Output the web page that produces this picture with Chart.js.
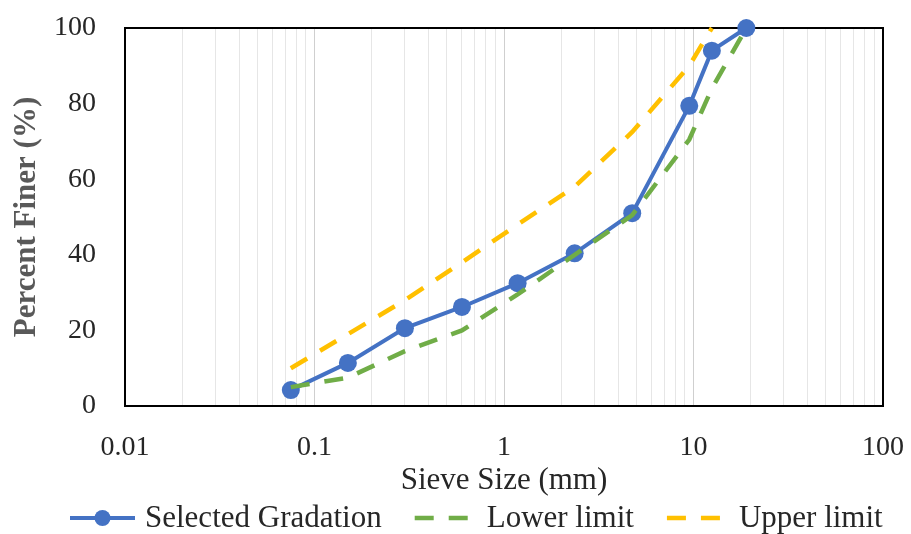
<!DOCTYPE html>
<html>
<head>
<meta charset="utf-8">
<script src="https://cdn.jsdelivr.net/npm/chart.js@4/dist/chart.umd.min.js"></script>
<style>
  html, body { margin: 0; padding: 0; background: #ffffff; }
  #wrap { width: 911px; height: 534px; }
</style>
</head>
<body>
<div id="wrap"><canvas id="c" width="911" height="534"></canvas></div>
<script>
// Sieve analysis: selected aggregate gradation with its specification band
const sieveSizes        = [0.075, 0.15, 0.3, 0.6, 1.18, 2.36, 4.75, 9.5, 12.5, 19];
const selectedGradation = [4.2, 11.4, 20.6, 26.2, 32.5, 40.4, 51.0, 79.4, 94.0, 100];
const lowerLimit        = [5, 7.5, 14.5, 20, 29.5, 40, 50.5, 70.5, 84, 100];
const upperLimit        = [10, 19, 28, 38, 48, 58, 72.5, 90, 100, null];
const seriesNames = ['Selected Gradation', 'Lower limit', 'Upper limit'];
const xTickLabels = ['0.01', '0.1', '1', '10', '100'];
const yTickLabels = ['0', '20', '40', '60', '80', '100'];

const SERIF = "'Liberation Serif', 'Times New Roman', serif";

function toPoints(values) {
  return sieveSizes
    .map((s, i) => ({ x: s, y: values[i] }))
    .filter(p => p.y !== null);
}

// keep the plot area governed by layout padding only
function noOverhang(scale) {
  scale.paddingTop = 0;
  scale.paddingBottom = 0;
  scale.paddingLeft = 0;
  scale.paddingRight = 0;
}

// black frame around the plot area
const frame = {
  id: 'frame',
  beforeDatasetsDraw(chart) {
    const { ctx, chartArea: a } = chart;
    ctx.save();
    ctx.strokeStyle = '#000000';
    ctx.lineWidth = 2;
    ctx.strokeRect(a.left, a.top, a.right - a.left, a.bottom - a.top);
    ctx.restore();
  }
};

// legend row with line / marker samples
const legendRow = {
  id: 'legendRow',
  afterDraw(chart) {
    const { ctx } = chart;
    const y = 518;
    const sampleW = 65, gap = 10, spacing = 30;
    let x = 70;
    ctx.save();
    ctx.font = '31px ' + SERIF;
    ctx.textBaseline = 'middle';
    ctx.textAlign = 'left';
    chart.data.datasets.forEach(ds => {
      ctx.save();
      ctx.strokeStyle = ds.borderColor;
      ctx.lineWidth = ds.borderWidth;
      ctx.setLineDash(ds.borderDash || []);
      ctx.beginPath();
      if (ds.borderDash && ds.borderDash.length) {
        ctx.moveTo(x + 3, y);
        ctx.lineTo(x + sampleW - 3, y);
      } else {
        ctx.moveTo(x, y);
        ctx.lineTo(x + sampleW, y);
      }
      ctx.stroke();
      if (ds.pointRadius > 0) {
        ctx.setLineDash([]);
        ctx.fillStyle = ds.pointBackgroundColor;
        ctx.beginPath();
        ctx.arc(x + sampleW / 2, y, ds.pointRadius - 1, 0, Math.PI * 2);
        ctx.fill();
      }
      ctx.restore();
      ctx.fillStyle = '#262626';
      ctx.fillText(ds.label, x + sampleW + gap, y + 1);
      x += sampleW + gap + ctx.measureText(ds.label).width + spacing;
    });
    ctx.restore();
  }
};

const isDecade = v => xTickLabels.includes(String(v));

new Chart(document.getElementById('c'), {
  type: 'line',
  data: {
    datasets: [
      {
        label: seriesNames[0],
        data: toPoints(selectedGradation),
        borderColor: '#4472C4',
        backgroundColor: '#4472C4',
        pointBackgroundColor: '#4472C4',
        pointBorderWidth: 0,
        borderWidth: 4,
        pointRadius: 9,
        tension: 0,
        clip: false,
        order: 3
      },
      {
        label: seriesNames[1],
        data: toPoints(lowerLimit),
        borderColor: '#70AD47',
        backgroundColor: '#70AD47',
        borderWidth: 4.5,
        borderDash: [19, 15],
        pointRadius: 0,
        tension: 0,
        clip: false,
        order: 2
      },
      {
        label: seriesNames[2],
        data: toPoints(upperLimit),
        borderColor: '#FFC000',
        backgroundColor: '#FFC000',
        borderWidth: 4.5,
        borderDash: [19, 15],
        pointRadius: 0,
        tension: 0,
        clip: false,
        order: 1
      }
    ]
  },
  options: {
    responsive: false,
    animation: false,
    devicePixelRatio: 1,
    layout: { padding: { left: 0, right: 28, top: 28, bottom: 33 } },
    plugins: {
      legend: { display: false },
      tooltip: { enabled: false }
    },
    scales: {
      x: {
        type: 'logarithmic',
        position: 'bottom',
        min: 0.01,
        max: 100,
        afterBuildTicks(scale) {
          const ticks = [];
          [0.01, 0.1, 1, 10].forEach(d => {
            for (let m = 1; m <= 9; m++) ticks.push({ value: Number((m * d).toPrecision(3)) });
          });
          ticks.push({ value: 100 });
          scale.ticks = ticks;
        },
        afterFit(scale) { scale.height = 95; noOverhang(scale); },
        grid: {
          drawTicks: false,
          lineWidth: 1,
          color: ctx => (ctx.tick && isDecade(ctx.tick.value)) ? '#cfcfcf' : '#e6e6e6'
        },
        border: { display: false },
        ticks: {
          autoSkip: false,
          maxRotation: 0,
          padding: 25,
          color: '#262626',
          font: { family: SERIF, size: 28 },
          callback: value => xTickLabels.find(l => Number(l) === value) || ''
        },
        title: {
          display: true,
          text: 'Sieve Size (mm)',
          color: '#262626',
          font: { family: SERIF, size: 31 },
          padding: { top: 0, bottom: 2 }
        }
      },
      y: {
        min: 0,
        max: 100,
        afterFit(scale) { scale.width = 125; noOverhang(scale); },
        grid: { display: false, drawTicks: false },
        border: { display: false },
        ticks: {
          stepSize: 20,
          padding: 29,
          color: '#262626',
          font: { family: SERIF, size: 28 },
          callback: (value, index) => yTickLabels[index]
        },
        title: {
          display: true,
          text: 'Percent Finer (%)',
          color: '#595959',
          font: { family: SERIF, size: 31, weight: 'bold' },
          padding: { top: 8, bottom: 0 }
        }
      }
    }
  },
  plugins: [frame, legendRow]
});
</script>
</body>
</html>
